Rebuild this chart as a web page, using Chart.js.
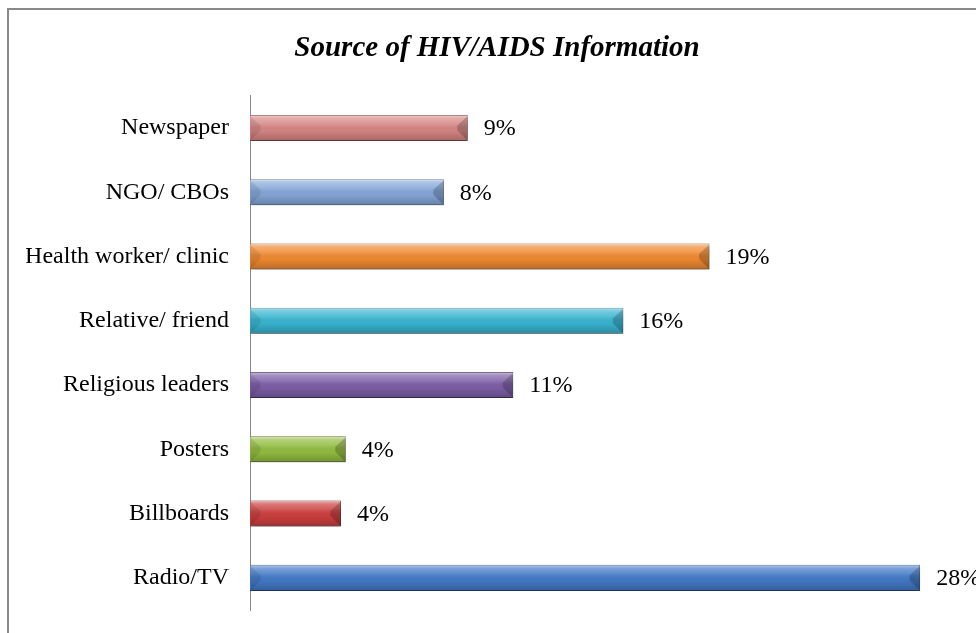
<!DOCTYPE html>
<html>
<head>
<meta charset="utf-8">
<script src="https://cdn.jsdelivr.net/npm/chart.js@4/dist/chart.umd.min.js"></script>
<style>
  html, body { margin: 0; padding: 0; background: #fff; }
  #wrap { position: relative; width: 976px; height: 633px; overflow: hidden; }
  #frame {
    position: absolute; left: 7px; top: 8px; width: 1100px; height: 800px;
    border-left: 2px solid #898989; border-top: 2px solid #898989;
    pointer-events: none;
  }
</style>
</head>
<body>
<div id="wrap">
  <canvas id="myChart" width="976" height="633"></canvas>
  <div id="frame"></div>
</div>
<script>
const chart_title = 'Source of HIV/AIDS Information';

const sources = [
    'Newspaper',
    'NGO/ CBOs',
    'Health worker/ clinic',
    'Relative/ friend',
    'Religious leaders',
    'Posters',
    'Billboards',
    'Radio/TV'
];

const percentages = [9.1, 8.1, 19.2, 15.6, 11.0, 4.0, 3.8, 28.0];

const bar_colors  = ['#d68684', '#85a6d8', '#f08a32', '#38b4d0', '#7c5ea6', '#93bc40', '#cc3f3f', '#4379c6'];
const edge_colors = ['#95504e', '#4f6d9a', '#a85a1c', '#20768b', '#4f386e', '#4f6c1c', '#7c2222', '#284f86'];

const serif = '"Liberation Serif", "Times New Roman", serif';

let context = document.getElementById('myChart');

// soft shadow under the bars, then a bevel look on top of them
const bevel_plugin = {
    id: 'bevel',
    beforeDatasetsDraw(chart) {
        const ctx = chart.ctx;
        ctx.save();
        ctx.shadowColor = 'rgba(0,0,0,0.35)';
        ctx.shadowBlur = 5;
        ctx.shadowOffsetX = 1;
        ctx.shadowOffsetY = 3;
    },
    afterDatasetsDraw(chart) {
        const ctx = chart.ctx;
        ctx.restore();
        const meta = chart.getDatasetMeta(0);
        ctx.save();
        meta.data.forEach((bar) => {
            const x0 = bar.base + 0.5, x1 = bar.x - 0.5;
            const top = bar.y - bar.height / 2 + 0.5, bottom = bar.y + bar.height / 2 - 0.5;
            const d = Math.min(10, (x1 - x0) / 2);
            const v = (bottom - top) * 0.4;

            let grad = ctx.createLinearGradient(0, top, 0, bottom);
            grad.addColorStop(0, 'rgba(255,255,255,0.55)');
            grad.addColorStop(0.12, 'rgba(255,255,255,0.30)');
            grad.addColorStop(0.35, 'rgba(255,255,255,0.12)');
            grad.addColorStop(0.6, 'rgba(0,0,0,0.02)');
            grad.addColorStop(1, 'rgba(0,0,0,0.22)');
            ctx.fillStyle = grad;
            ctx.fillRect(x0, top, x1 - x0, bottom - top);

            // left end
            ctx.fillStyle = 'rgba(0,0,0,0.09)';
            ctx.beginPath();
            ctx.moveTo(x0, top + 1); ctx.lineTo(x0 + d, top + v);
            ctx.lineTo(x0 + d, bottom - v); ctx.lineTo(x0, bottom);
            ctx.closePath(); ctx.fill();

            // right end
            ctx.fillStyle = 'rgba(0,0,0,0.2)';
            ctx.beginPath();
            ctx.moveTo(x1, top + 1); ctx.lineTo(x1 - d, top + v);
            ctx.lineTo(x1 - d, bottom - v); ctx.lineTo(x1, bottom);
            ctx.closePath(); ctx.fill();
        });
        ctx.restore();
    }
};

const value_labels = {
    id: 'valueLabels',
    afterDatasetsDraw(chart) {
        const ctx = chart.ctx;
        const meta = chart.getDatasetMeta(0);
        ctx.save();
        ctx.font = '24px ' + serif;
        ctx.fillStyle = '#000';
        ctx.textAlign = 'left';
        ctx.textBaseline = 'middle';
        meta.data.forEach((bar, i) => {
            ctx.fillText(Math.round(percentages[i]) + '%', bar.x + 16, bar.y + 1);
        });
        ctx.restore();
    }
};

const data = {
    labels: sources,
    datasets: [{
        data: percentages,
        backgroundColor: bar_colors,
        borderColor: edge_colors,
        borderWidth: 1,
        barPercentage: 0.405,
        categoryPercentage: 1
    }]
};

const options = {
    indexAxis: 'y',
    responsive: false,
    animation: false,
    layout: {
        padding: { left: 26, right: 8, top: 0, bottom: 23 }
    },
    scales: {
        x: {
            display: false,
            min: 0,
            max: 30
        },
        y: {
            afterFit: (scale) => {
                scale.width = 224;
                scale.paddingTop = 0;
                scale.paddingBottom = 0;
            },
            grid: { display: false, drawTicks: false },
            border: { display: true, color: '#898989', width: 1 },
            ticks: {
                color: '#000',
                padding: 21,
                font: { family: serif, size: 24 }
            }
        }
    },
    plugins: {
        legend: { display: false },
        tooltip: { enabled: false },
        title: {
            display: true,
            text: chart_title,
            color: '#000',
            font: { family: serif, size: 29, style: 'italic', weight: 'bold', lineHeight: 1.2 },
            padding: { top: 31, bottom: 30 }
        }
    }
};

const chart = new Chart(context, {
    type: 'bar',
    data: data,
    options: options,
    plugins: [bevel_plugin, value_labels]
});
</script>
</body>
</html>
